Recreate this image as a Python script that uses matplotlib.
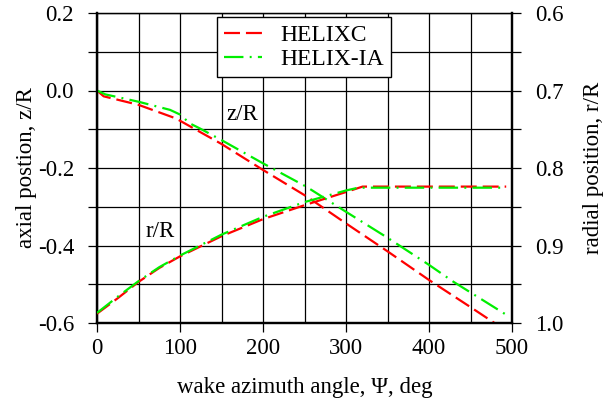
import matplotlib
matplotlib.use("Agg")
import matplotlib.pyplot as plt
from matplotlib import font_manager
from matplotlib.ticker import MultipleLocator, FormatStrFormatter

available = {f.name for f in font_manager.fontManager.ttflist}
serif_name = 'STIXGeneral'
for cand in ['Liberation Serif', 'Tinos', 'Times New Roman', 'Nimbus Roman', 'STIXGeneral']:
    if cand in available:
        serif_name = cand
        break

plt.rcParams['font.family'] = [serif_name, 'DejaVu Serif']
plt.rcParams['axes.unicode_minus'] = False
plt.rcParams['lines.scale_dashes'] = False

# HELIXC (red) axial position z/R
psi_z_c = [0, 8, 50, 95, 150, 200, 253, 300, 350, 400, 450, 493]
z_c = [0.0, -0.015, -0.037, -0.072, -0.138, -0.205, -0.274, -0.343, -0.415, -0.489, -0.559, -0.62]
# HELIX-IA (green) axial position z/R
psi_z_ia = [0, 10, 50, 88, 100, 112, 124, 150, 200, 252, 300, 350, 400, 429, 494]
z_ia = [0.0, -0.01, -0.029, -0.05, -0.062, -0.085, -0.098, -0.128, -0.188, -0.248, -0.313, -0.38, -0.45, -0.493, -0.58]
# HELIXC (red) radial position r/R
psi_r_c = [0, 25, 50, 75, 100, 150, 200, 250, 300, 320, 493]
r_c = [0.988, 0.968, 0.947, 0.929, 0.914, 0.888, 0.866, 0.848, 0.831, 0.824, 0.824]
# HELIX-IA (green) radial position r/R
psi_r_ia = [0, 25, 50, 75, 100, 150, 200, 250, 300, 315, 493]
r_ia = [0.987, 0.966, 0.946, 0.928, 0.913, 0.886, 0.863, 0.844, 0.829, 0.8254, 0.8254]

series_names = ['HELIXC', 'HELIX-IA']

W, H = 604, 403
fig = plt.figure(figsize=(W / 100, H / 100), dpi=100)
L, R, T, B = 97, 512, 13, 323
ax = fig.add_axes([L / W, 1 - B / H, (R - L) / W, (B - T) / H])
ax2 = ax.twinx()

red_dash = (0, (11.5, 4.3))
green_dd = (0, (14.0, 4.5, 1.4, 4.5))

lc, = ax.plot(psi_z_c, z_c, color='#ff0000', lw=1.6, linestyle=red_dash, zorder=3, label=series_names[0])
li, = ax.plot(psi_z_ia, z_ia, color='#00ee00', lw=1.6, linestyle=green_dd, zorder=3, label=series_names[1])
ax2.plot(psi_r_c, r_c, color='#ff0000', lw=1.6, linestyle=red_dash, zorder=3)
ax2.plot(psi_r_ia, r_ia, color='#00ee00', lw=1.6, linestyle=green_dd, zorder=3)

ax.set_xlim(0, 500)
ax.set_ylim(-0.6, 0.2)
ax2.set_ylim(1.0, 0.6)

fs = 16.5
ax.xaxis.set_major_locator(MultipleLocator(100))
ax.xaxis.set_minor_locator(MultipleLocator(50))
ax.yaxis.set_major_locator(MultipleLocator(0.2))
ax.yaxis.set_minor_locator(MultipleLocator(0.1))
ax.yaxis.set_major_formatter(FormatStrFormatter('%.1f'))
ax2.yaxis.set_major_locator(MultipleLocator(0.1))
ax2.yaxis.set_minor_locator(MultipleLocator(0.05))
ax2.yaxis.set_major_formatter(FormatStrFormatter('%.1f'))

ax.grid(True, which='both', color='black', lw=0.9, zorder=1)
ax.set_axisbelow(True)

ax.tick_params(axis='x', which='major', direction='out', length=6.5, width=0.9, labelsize=fs, pad=4)
ax.tick_params(axis='x', which='minor', length=0)
ax.tick_params(axis='y', which='both', direction='out', length=6.5, width=0.9, labelsize=fs, pad=10)
ax2.tick_params(axis='y', which='both', direction='out', length=6.5, width=0.9, labelsize=fs, pad=10)

for a in (ax, ax2):
    for s in ('left', 'right', 'bottom'):
        a.spines[s].set_linewidth(1.6)
    a.spines['top'].set_linewidth(0.9)

ax.set_xlabel('wake azimuth angle, \u03a8, deg', fontsize=fs, labelpad=13)
ax.set_ylabel('axial postion, z/R', fontsize=fs, va='center')
ax2.set_ylabel('radial position, r/R', fontsize=fs, rotation=90, va='center')
ax.yaxis.set_label_coords(-0.1687, 0.5)
ax2.yaxis.set_label_coords(1.197, 0.5)

ax.text(175, -0.063, 'z/R', fontsize=fs, ha='center', va='center', zorder=4)
ax.text(76, -0.365, 'r/R', fontsize=fs, ha='center', va='center', zorder=4)

leg = ax2.legend(handles=[lc, li], loc='upper center', bbox_to_anchor=(0.4988, 0.986),
                 borderaxespad=0, fontsize=17, fancybox=False, framealpha=1,
                 edgecolor='black', handlelength=1.6, handletextpad=0.75,
                 labelspacing=0.1, borderpad=0.3)
leg.get_frame().set_linewidth(1.0)
leg.set_zorder(10)

fig.savefig('out.png', dpi=100)
